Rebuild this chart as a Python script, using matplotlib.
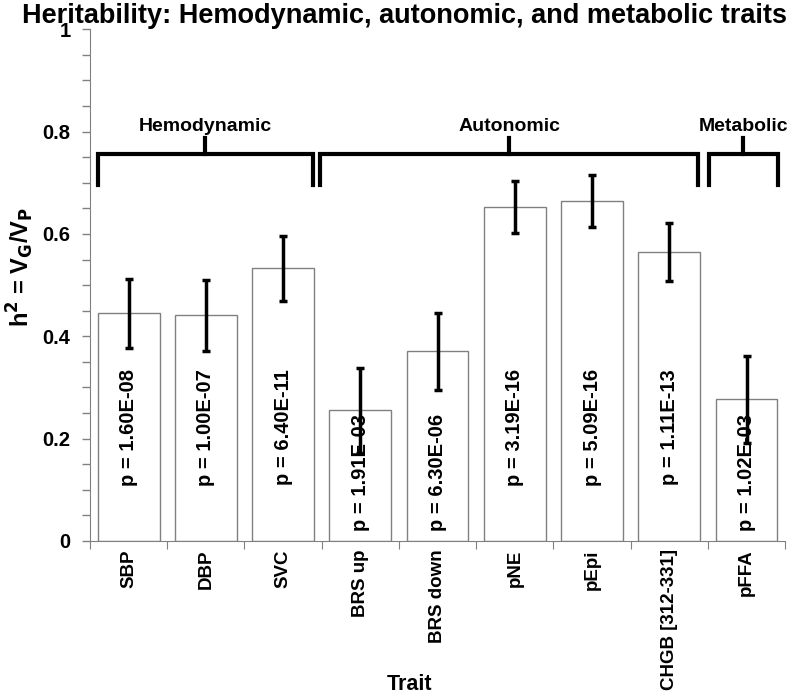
import matplotlib
matplotlib.use("Agg")
import matplotlib.pyplot as plt
import numpy as np

plt.rcParams['font.family'] = ['Liberation Sans', 'DejaVu Sans']
plt.rcParams['font.weight'] = 'bold'

traits = ["SBP", "DBP", "SVC", "BRS up", "BRS down", "pNE", "pEpi", "CHGB [312-331]", "pFFA"]
h2 = [0.445, 0.441, 0.533, 0.255, 0.371, 0.652, 0.665, 0.565, 0.277]
err = [0.067, 0.070, 0.064, 0.084, 0.075, 0.051, 0.051, 0.056, 0.085]
pvals = ["1.60E-08", "1.00E-07", "6.40E-11", "1.91E-03", "6.30E-06", "3.19E-16", "5.09E-16", "1.11E-13", "1.02E-03"]
groups = ["Hemodynamic", "Autonomic", "Metabolic"]
group_spans = [(-0.40, 2.39), (2.48, 7.37), (7.51, 8.41)]

fig = plt.figure(figsize=(8, 6.98), dpi=100)
ax = fig.add_axes([0.1125, 0.225, 0.869, 0.733])

x = np.arange(len(traits))
ax.bar(x, h2, width=0.8, color='white', edgecolor='#808080', linewidth=1, zorder=2)
ax.errorbar(x, h2, yerr=err, fmt='none', ecolor='black', elinewidth=2.5,
            capsize=3, capthick=2.5, zorder=3)

for xi, v, p in zip(x, h2, pvals):
    ty = 0.222 if v > 0.4 else 0.133
    ax.text(xi, ty, f"p = {p}", rotation=90, ha='center', va='center',
            fontsize=14.5, fontweight='bold', zorder=4)

y_low, y_mid, y_top, y_lab = 0.695, 0.756, 0.787, 0.81
for name, (a, b) in zip(groups, group_spans):
    ax.plot([a, a, b, b], [y_low, y_mid, y_mid, y_low], color='black', lw=3,
            solid_joinstyle='miter', clip_on=False)
    c = (a + b) / 2
    ax.plot([c, c], [y_mid, y_top], color='black', lw=3, clip_on=False)
    ax.text(c, y_lab, name, ha='center', va='center', fontsize=14, fontweight='bold')

ax.set_xlim(-0.5, len(traits) - 0.5)
ax.set_ylim(0, 1)
ax.set_xticks(np.arange(-0.5, len(traits) + 0.5, 1.0))
ax.set_xticklabels([])
ax.set_xticks(x, minor=True)
ax.set_xticklabels(traits, minor=True, rotation=90, fontsize=13.5, fontweight='bold')
ax.tick_params(axis='x', which='minor', length=0, pad=6)
ax.tick_params(axis='x', which='major', direction='out', length=6, color='#808080')

ax.set_yticks([0, 0.2, 0.4, 0.6, 0.8, 1.0])
ax.set_yticklabels(["0", "0.2", "0.4", "0.6", "0.8", "1"], fontsize=14.5, fontweight='bold')
ax.set_yticks(np.arange(0, 1.001, 0.05), minor=True)
ax.tick_params(axis='y', which='both', direction='out', length=6, color='#808080', width=1)
ax.tick_params(axis='y', which='major', pad=8)

for s in ['top', 'right']:
    ax.spines[s].set_visible(False)
for s in ['left', 'bottom']:
    ax.spines[s].set_color('#808080')

fig.text(0.026, 0.617, r"h$^\mathbf{2}$ = V$_\mathbf{G}$/V$_\mathbf{P}$", rotation=90,
         ha='center', va='center', fontsize=17, fontweight='bold')
fig.text(0.512, 0.019, "Trait", ha='center', va='center', fontsize=15.5, fontweight='bold')

fig.text(0.0275, 0.996, "Heritability: Hemodynamic, autonomic, and metabolic traits",
         ha='left', va='top', fontsize=19.5, fontweight='bold')

fig.savefig("out.png", dpi=100)
